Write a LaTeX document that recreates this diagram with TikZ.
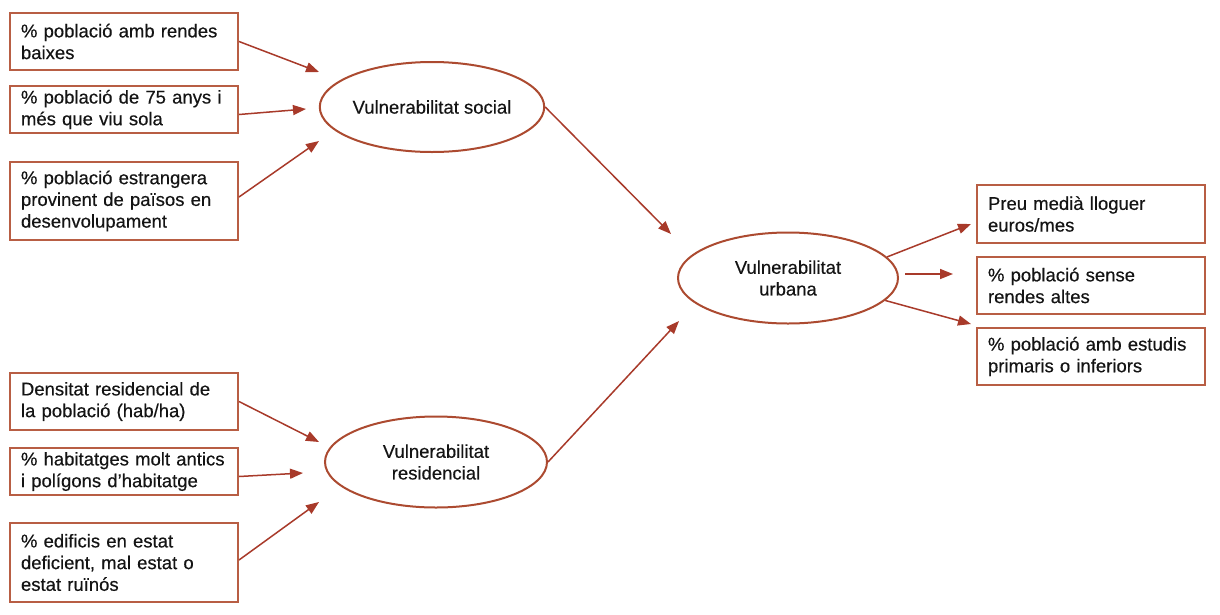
\documentclass[tikz,border=0pt]{standalone}
\usepackage{fontspec}
\setmainfont{Liberation Sans}[FakeBold=0.35]
\usetikzlibrary{shapes.geometric,arrows.meta}
\definecolor{boxc}{RGB}{184,94,68}
\definecolor{arrc}{RGB}{168,58,42}
\definecolor{ellc}{RGB}{172,74,48}
\definecolor{txtc}{RGB}{20,20,20}
\begin{document}
\begin{tikzpicture}[x=1pt,y=-1pt,
  every node/.style={font=\fontsize{18.5}{21.7}\selectfont, text=txtc},
  ibox/.style={draw=boxc, line width=2pt, minimum width=228pt, text width=206pt,
    inner xsep=11pt, inner ysep=0pt, align=left},
  ell/.style={ellipse, draw=ellc, line width=2pt, inner sep=0pt, align=center},
  arr/.style={draw=arrc, line width=1.5pt, -{Triangle[length=13pt,width=10pt]}}]
\useasboundingbox[fill=white] (0,0) rectangle (1220,614);

% input boxes (social)
\node[ibox, minimum height=57pt] (b1) at (124,41.5) {\% població amb rendes\\baixes};
\node[ibox, minimum height=47pt] (b2) at (124,109.5) {\% població de 75 anys i\\més que viu sola};
\node[ibox, minimum height=78pt] (b3) at (124,201) {\% població estrangera\\provinent de països en\\desenvolupament};

% input boxes (residencial)
\node[ibox, minimum height=57pt] (d1) at (124,401.5) {Densitat residencial de\\la població (hab/ha)};
\node[ibox, minimum height=47pt] (d2) at (124,471.5) {\% habitatges molt antics\\i polígons d'habitatge};
\node[ibox, minimum height=79pt] (d3) at (124,562.5) {\% edificis en estat\\deficient, mal estat o\\estat ruïnós};

% output boxes
\node[ibox, minimum height=58pt] (o1) at (1091,214) {Preu medià lloguer\\euros/mes};
\node[ibox, minimum height=57pt] (o2) at (1091,285.5) {\% població sense\\rendes altes};
\node[ibox, minimum height=57pt] (o3) at (1091,356.5) {\% població amb estudis\\primaris o inferiors};

% ellipses
\node[ell, minimum width=214pt, minimum height=90pt] (soc) at (432,107) {Vulnerabilitat social};
\node[ell, minimum width=222pt, minimum height=91pt] (res) at (436,462) {Vulnerabilitat\\residencial};
\node[ell, minimum width=220pt, minimum height=91pt] (urb) at (788,278) {Vulnerabilitat\\urbana};

% arrow tips
\coordinate (t1) at (319,72);
\coordinate (t2) at (306,109);
\coordinate (t3) at (319,141);
\coordinate (r1) at (319,442);
\coordinate (r2) at (303,473);
\coordinate (r3) at (319,502);
\coordinate (u1) at (671,234);
\coordinate (u2) at (679,321);
\coordinate (p1) at (971,224);
\coordinate (p2s) at (905,274);
\coordinate (p2) at (953,274);
\coordinate (p3) at (971,324);

\draw[arr] (b1.east) -- (t1);
\draw[arr] ([yshift=-5pt]b2.east) -- (t2);
\draw[arr] ([yshift=4pt]b3.east) -- (t3);
\draw[arr] (d1.east) -- (r1);
\draw[arr] ([yshift=-5pt]d2.east) -- (r2);
\draw[arr] ([yshift=2.5pt]d3.east) -- (r3);
\draw[arr] (soc.east) -- (u1);
\draw[arr] (res.east) -- (u2);
\draw[arr] (urb.12) -- (p1);
\draw[arr] (p2s) -- (p2);
\draw[arr] (urb.-13) -- (p3);
\end{tikzpicture}
\end{document}
